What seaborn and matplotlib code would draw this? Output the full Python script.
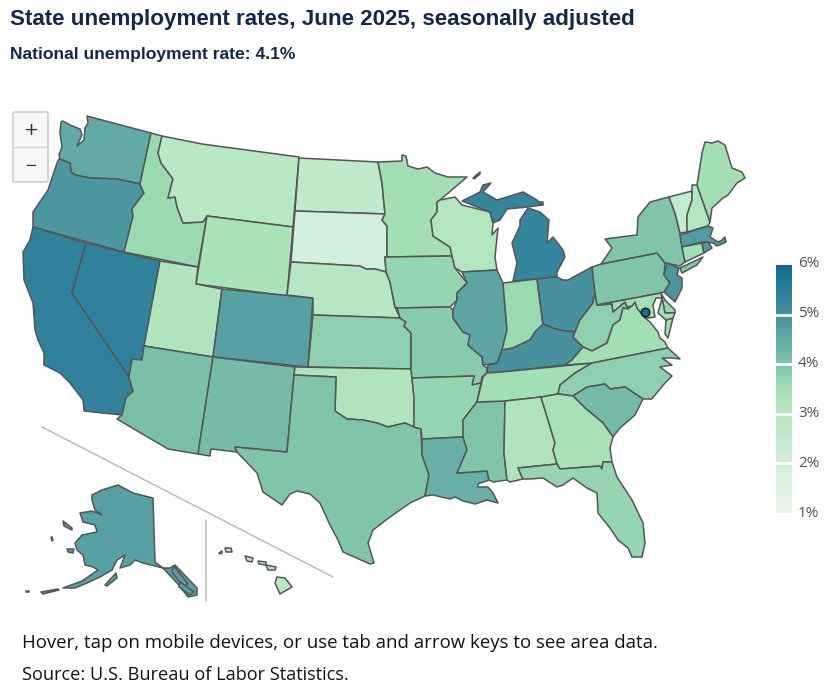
import numpy as np
import pandas as pd
import matplotlib
matplotlib.use("Agg")
import matplotlib.pyplot as plt
from matplotlib.patches import FancyBboxPatch
import seaborn as sns

# unemployment rate per state
states = ["WA", "OR", "CA", "NV", "ID", "MT", "WY", "UT", "AZ", "CO", "NM", "ND", "SD", "NE", "KS", "OK", "TX",
          "MN", "IA", "MO", "AR", "LA", "WI", "IL", "MS", "MI", "IN", "KY", "TN", "AL", "OH", "WV", "VA", "NC",
          "SC", "GA", "FL", "PA", "NY", "VT", "NH", "ME", "MA", "CT", "RI", "NJ", "DE", "MD", "AK", "HI"]
rates = [4.5, 4.9, 5.4, 5.4, 3.6, 2.9, 3.3, 3.2, 4.1, 4.7, 4.2, 2.6, 1.9, 3.0, 3.8, 3.2, 4.0,
         3.5, 3.7, 3.9, 3.7, 4.4, 3.1, 4.6, 4.0, 5.3, 3.6, 5.0, 3.5, 3.2, 5.0, 3.8, 3.5, 3.8,
         4.2, 3.4, 3.7, 4.0, 4.0, 2.5, 3.1, 3.5, 4.8, 3.5, 4.8, 4.9, 3.6, 3.5, 4.7, 2.8]
dc_rate = 5.9

scale_ticks = [1, 2, 3, 4, 5, 6]
scale_colors = ["#e9f5ed", "#def2e4", "#d0eeda", "#c3ebcd", "#b6e7c2", "#a3e0b3",
                "#80c5aa", "#63aba6", "#47919f", "#2b7e9b", "#0f6b95"]

# state outlines traced in map space
shapes = {
    "WA": [[(87,116),(151,133),(140,184),(117,179),(90,178),(75,175),(71,172),(70,163),(60,159),(59,155),(62,147),(60,133),(61,122),(63,121),(70,125),(80,129),(82,135),(77,146),(84,140),(85,128),(88,123)]],
    "OR": [[(59,159),(70,163),(71,172),(75,175),(90,178),(117,179),(140,184),(142,189),(144,193),(132,209),(133,216),(124,252),(33,227),(33,212),(48,190),(57,163)]],
    "CA": [[(33,227),(86,243),(72,293),(129,377),(133,391),(126,398),(122,415),(84,411),(83,400),(70,383),(60,373),(44,365),(44,353),(38,340),(35,330),(33,303),(24,280),(23,252),(30,240)]],
    "NV": [[(86,243),(160,261),(142,360),(132,359),(129,377),(72,293)]],
    "ID": [[(151,133),(162,136),(158,153),(161,163),(173,179),(168,198),(175,197),(177,207),(183,223),(203,222),(207,216),(198,267),(124,252),(133,216),(132,209),(144,193),(142,189),(140,184)]],
    "MT": [[(162,136),(202,144),(299,157),(293,227),(207,216),(203,222),(183,223),(177,207),(175,197),(168,198),(173,179),(161,163),(158,153)]],
    "WY": [[(207,216),(293,227),(287,296),(196,284)]],
    "UT": [[(160,261),(198,267),(196,284),(222,289),(213,357),(144,346)]],
    "AZ": [[(144,346),(213,357),(198,454),(168,449),(117,419),(122,415),(126,398),(133,391),(129,377),(132,359),(142,360)]],
    "CO": [[(222,289),(313,298),(308,367),(213,357)]],
    "NM": [[(213,357),(295,367),(294,375),(287,452),(235,447),(237,452),(211,449),(210,456),(198,454)]],
    "ND": [[(299,158),(378,162),(382,183),(385,214),(295,211)]],
    "SD": [[(295,211),(385,214),(382,220),(387,226),(387,257),(385,257),(386,272),(375,269),(366,269),(360,266),(291,262)]],
    "NE": [[(291,262),(360,266),(366,269),(375,269),(386,272),(390,282),(395,307),(400,318),(313,315),(313,298),(287,295)]],
    "KS": [[(313,315),(400,318),(406,322),(404,326),(411,333),(411,369),(308,367)]],
    "OK": [[(294,375),(295,367),(411,369),(412,378),(414,398),(414,427),(405,423),(388,427),(377,423),(363,420),(347,419),(335,411),(336,377)]],
    "TX": [[(294,375),(336,377),(335,411),(347,419),(363,420),(377,423),(388,427),(405,423),(414,427),(421,429),(422,455),(429,475),(425,496),(410,503),(390,517),(373,530),(368,543),(374,563),(370,564),(343,552),(338,540),(330,525),(320,503),(310,494),(297,491),(290,494),(282,505),(263,492),(257,473),(237,452),(235,447),(287,452)]],
    "MN": [[(378,162),(402,161),(402,155),(406,156),(408,166),(418,169),(427,167),(435,173),(448,177),(467,177),(440,200),(437,202),(437,212),(431,220),(433,236),(450,247),(452,256),(385,257),(387,257),(387,226),(382,220),(385,214),(382,183)]],
    "IA": [[(385,257),(452,256),(455,268),(467,283),(457,293),(457,300),(450,307),(397,308),(395,307),(390,282),(386,272)]],
    "MO": [[(397,308),(450,307),(453,310),(453,318),(463,332),(470,335),(468,345),(482,357),(483,365),(487,368),(487,373),(482,377),(481,383),(472,385),(474,376),(412,378),(411,369),(411,333),(404,326),(406,322),(400,318)]],
    "AR": [[(412,378),(474,376),(472,385),(481,383),(477,402),(463,420),(463,437),(422,439),(421,429),(414,427),(414,398)]],
    "LA": [[(422,439),(463,437),(467,450),(457,473),(487,471),(489,480),(478,484),(478,487),(488,487),(493,493),(498,503),(487,500),(475,504),(463,501),(455,497),(450,499),(433,495),(425,496),(429,475),(422,455)]],
    "MS": [[(477,402),(505,401),(504,453),(507,480),(493,482),(489,480),(487,471),(457,473),(467,450),(463,437),(463,420)]],
    "AL": [[(505,401),(541,397),(555,443),(553,450),(557,464),(518,468),(523,479),(510,482),(507,480),(504,453)]],
    "GA": [[(541,397),(558,394),(573,396),(585,408),(603,423),(613,437),(610,448),(612,462),(603,462),(602,469),(600,466),(560,469),(557,464),(553,450),(555,443)]],
    "FL": [[(518,468),(557,464),(560,469),(600,466),(602,469),(603,462),(612,462),(617,477),(632,500),(643,523),(645,543),(642,557),(632,557),(628,548),(618,540),(610,528),(598,513),(597,493),(587,488),(573,478),(563,485),(557,487),(543,478),(530,479),(523,479)]],
    "SC": [[(573,396),(587,387),(605,384),(610,389),(625,387),(643,399),(635,415),(620,428),(613,437),(603,423),(585,408)]],
    "NC": [[(558,394),(560,385),(575,373),(592,363),(668,348),(680,359),(672,358),(662,358),(672,365),(660,367),(672,376),(665,383),(655,395),(652,399),(643,399),(625,387),(610,389),(605,384),(587,387),(573,396)]],
    "TN": [[(477,402),(483,377),(487,373),(502,372),(592,363),(575,373),(560,385),(558,394),(541,397),(505,401)]],
    "KY": [[(487,373),(488,365),(497,363),(502,350),(513,348),(530,340),(535,332),(543,324),(553,328),(560,330),(575,332),(573,337),(583,347),(572,360),(565,365),(502,372)]],
    "IL": [[(462,272),(497,270),(503,283),(507,330),(502,350),(497,363),(483,365),(482,357),(468,345),(470,335),(463,332),(453,318),(453,310),(457,300),(457,293),(467,283)]],
    "WI": [[(437,202),(440,200),(455,197),(462,205),(490,212),(493,223),(492,235),(498,228),(495,257),(497,270),(462,272),(455,268),(452,256),(450,247),(433,236),(431,220),(437,212)]],
    "MI": [[(462,201),(480,192),(483,185),(491,183),(483,192),(497,200),(523,192),(537,200),(542,205),(528,207),(507,209),(500,220),(493,223),(490,212)],
           [(513,281),(557,277),(557,272),(565,257),(563,250),(553,237),(547,243),(549,220),(540,212),(528,208),(520,220),(520,226),(512,243),(517,263)],
           [(473,178),(480,172),(480,174),(474,179)],
           [(540,202),(543,202),(543,205),(540,205)]],
    "IN": [[(503,283),(537,279),(543,325),(535,332),(530,340),(513,348),(502,350),(507,330)]],
    "OH": [[(537,279),(557,277),(563,280),(568,280),(592,267),(595,293),(593,303),(580,320),(575,332),(560,330),(553,328),(543,324)]],
    "WV": [[(575,332),(580,320),(593,303),(595,293),(597,305),(612,304),(613,312),(625,302),(627,307),(632,306),(628,309),(623,308),(620,320),(613,325),(607,343),(592,351),(583,347),(573,337)]],
    "VA": [[(565,365),(572,360),(583,347),(592,351),(607,343),(613,325),(620,320),(623,308),(628,309),(632,306),(635,302),(637,308),(645,318),(650,322),(658,332),(660,338),(665,342),(668,348),(592,363)],
           [(666,320),(673,318),(668,338),(665,334)]],
    "MD": [[(597,305),(661,293),(665,313),(675,313),(673,318),(666,320),(658,313),(662,298),(656,298),(653,305),(655,317),(648,318),(645,318),(637,308),(635,302),(632,306),(627,307),(625,302),(613,312),(612,304)]],
    "DE": [[(661,293),(665,300),(675,310),(675,313),(665,313)]],
    "PA": [[(592,267),(601,264),(657,253),(665,263),(664,275),(670,283),(664,292),(661,293),(597,305),(595,293)]],
    "NY": [[(601,264),(612,248),(605,239),(620,237),(637,235),(638,217),(650,202),(669,197),(675,213),(680,233),(682,247),(685,262),(680,266),(665,263),(657,253)],
           [(680,268),(703,257),(697,265),(682,273)]],
    "VT": [[(669,197),(692,191),(692,200),(687,215),(687,232),(680,233),(675,213)]],
    "NH": [[(692,191),(692,185),(697,185),(710,222),(708,226),(687,232),(687,215),(692,200)]],
    "ME": [[(697,185),(702,153),(705,142),(712,143),(718,141),(725,145),(732,168),(742,172),(745,178),(737,183),(728,195),(723,198),(712,208),(710,222)]],
    "MA": [[(680,235),(708,226),(713,228),(710,237),(718,242),(722,240),(725,237),(726,242),(717,246),(713,243),(703,242),(682,247)]],
    "CT": [[(682,247),(702,243),(704,253),(685,262)]],
    "RI": [[(702,243),(708,242),(712,248),(704,253)]],
    "NJ": [[(667,263),(679,268),(677,275),(682,278),(682,288),(675,302),(664,292),(670,283),(664,275)]],
    "AK": [[(92,495),(102,490),(118,485),(133,493),(153,498),(155,562),(163,568),(170,568),(175,565),(197,588),(197,595),(188,597),(177,583),(163,568),(143,563),(135,560),(130,565),(120,568),(125,555),(117,560),(112,570),(100,577),(87,583),(75,588),(63,588),(82,581),(98,570),(93,567),(85,565),(83,555),(77,550),(75,543),(82,535),(97,532),(95,525),(83,522),(80,513),(92,511),(102,515),(95,510),(92,500)],
           [(63,521),(72,528),(72,530),(64,526)],
           [(67,549),(74,549),(73,553),(68,552)],
           [(105,585),(116,573),(117,578),(107,586)],
           [(41,592),(58,589),(59,590),(43,594)],
           [(26,591),(29,591),(29,592),(26,592)],
           [(51,537),(52,537),(53,540),(52,541)],
           [(174,566),(188,584),(183,586),(172,572)],
           [(180,582),(194,592),(190,595),(179,587)]],
    "HI": [[(277,577),(285,578),(292,587),(280,594),(275,583)],
           [(266,565),(276,567),(275,570),(268,570)],
           [(258,561),(266,562),(266,565),(259,564)],
           [(245,556),(253,558),(252,562),(247,561)],
           [(225,548),(231,548),(232,552),(226,552)],
           [(219,553),(222,551),(222,553),(220,554)]],
}

sns.set_theme(style="white")
plt.rcParams["font.family"] = ["Liberation Sans", "DejaVu Sans"]

cmap = sns.blend_palette(scale_colors, as_cmap=True)
def rate_color(r):
    return cmap((r - scale_ticks[0]) / (scale_ticks[-1] - scale_ticks[0]))

fig = plt.figure(figsize=(8.4, 6.87), dpi=100)
ax = fig.add_axes([0, 0, 1, 1])
ax.set_xlim(0, 840)
ax.set_ylim(687, 0)
ax.axis("off")

df = pd.DataFrame({"state": states, "rate": rates})
for _, row in df.iterrows():
    for part in shapes[row["state"]]:
        xs, ys = zip(*part)
        ax.fill(xs, ys, facecolor=rate_color(row["rate"]), edgecolor="#555555", lw=1.1, joinstyle="round")

# DC is a marker on the map
ax.scatter([644.5], [311.5], s=38, color=rate_color(dc_rate), edgecolor="#111111", lw=1, zorder=5)

# inset dividers
ax.plot([42, 333], [427, 577], color="#bcbcbc", lw=1.1)
ax.plot([206, 206], [520, 601], color="#bcbcbc", lw=1.1)

# titles
ax.text(10, 20, "State unemployment rates, June 2025, seasonally adjusted", fontsize=16.15, fontweight="bold",
        color="#14284b", va="center", ha="left")
ax.text(10, 54, "National unemployment rate: 4.1%", fontsize=12.6, fontweight="bold",
        color="#14284b", va="center", ha="left")
ax.text(22, 643, "Hover, tap on mobile devices, or use tab and arrow keys to see area data.", fontsize=13.4,
        family="Open Sans", color="#111111", va="center", ha="left")
ax.text(22, 675, "Source: U.S. Bureau of Labor Statistics.", fontsize=13.1,
        family="Open Sans", color="#111111", va="center", ha="left")

# zoom buttons
ax.add_patch(FancyBboxPatch((13, 112), 35, 70, boxstyle="round,pad=0,rounding_size=2",
                            facecolor="#f7f7f7", edgecolor="#d4d4d4", lw=1.4))
ax.plot([13, 48], [147, 147], color="#d4d4d4", lw=1)
ax.text(31, 130, "+", fontsize=13, color="#333333", ha="center", va="center", family="DejaVu Sans")
ax.text(31, 165, "\u2212", fontsize=11, color="#333333", ha="center", va="center", family="DejaVu Sans")

# colour scale
bar_ax = fig.add_axes([776 / 840, 1 - 513 / 687, 16 / 840, 248 / 687])
gradient = np.linspace(scale_ticks[-1], scale_ticks[0], 248).reshape(-1, 1)
sns.heatmap(gradient, ax=bar_ax, cmap=cmap, vmin=scale_ticks[0], vmax=scale_ticks[-1], cbar=False,
            xticklabels=False, yticklabels=False, rasterized=True)
for t in scale_ticks[1:-1]:
    bar_ax.axhline((scale_ticks[-1] - t) * 248 / 5, color="white", lw=2)
for t in scale_ticks:
    ax.text(798, 513 - (t - 1) * 50 + 0.5, f"{t}%", fontsize=11, color="#555555", family="Open Sans",
            ha="left", va="center")

fig.savefig("out.png", dpi=100)
plt.close(fig)
